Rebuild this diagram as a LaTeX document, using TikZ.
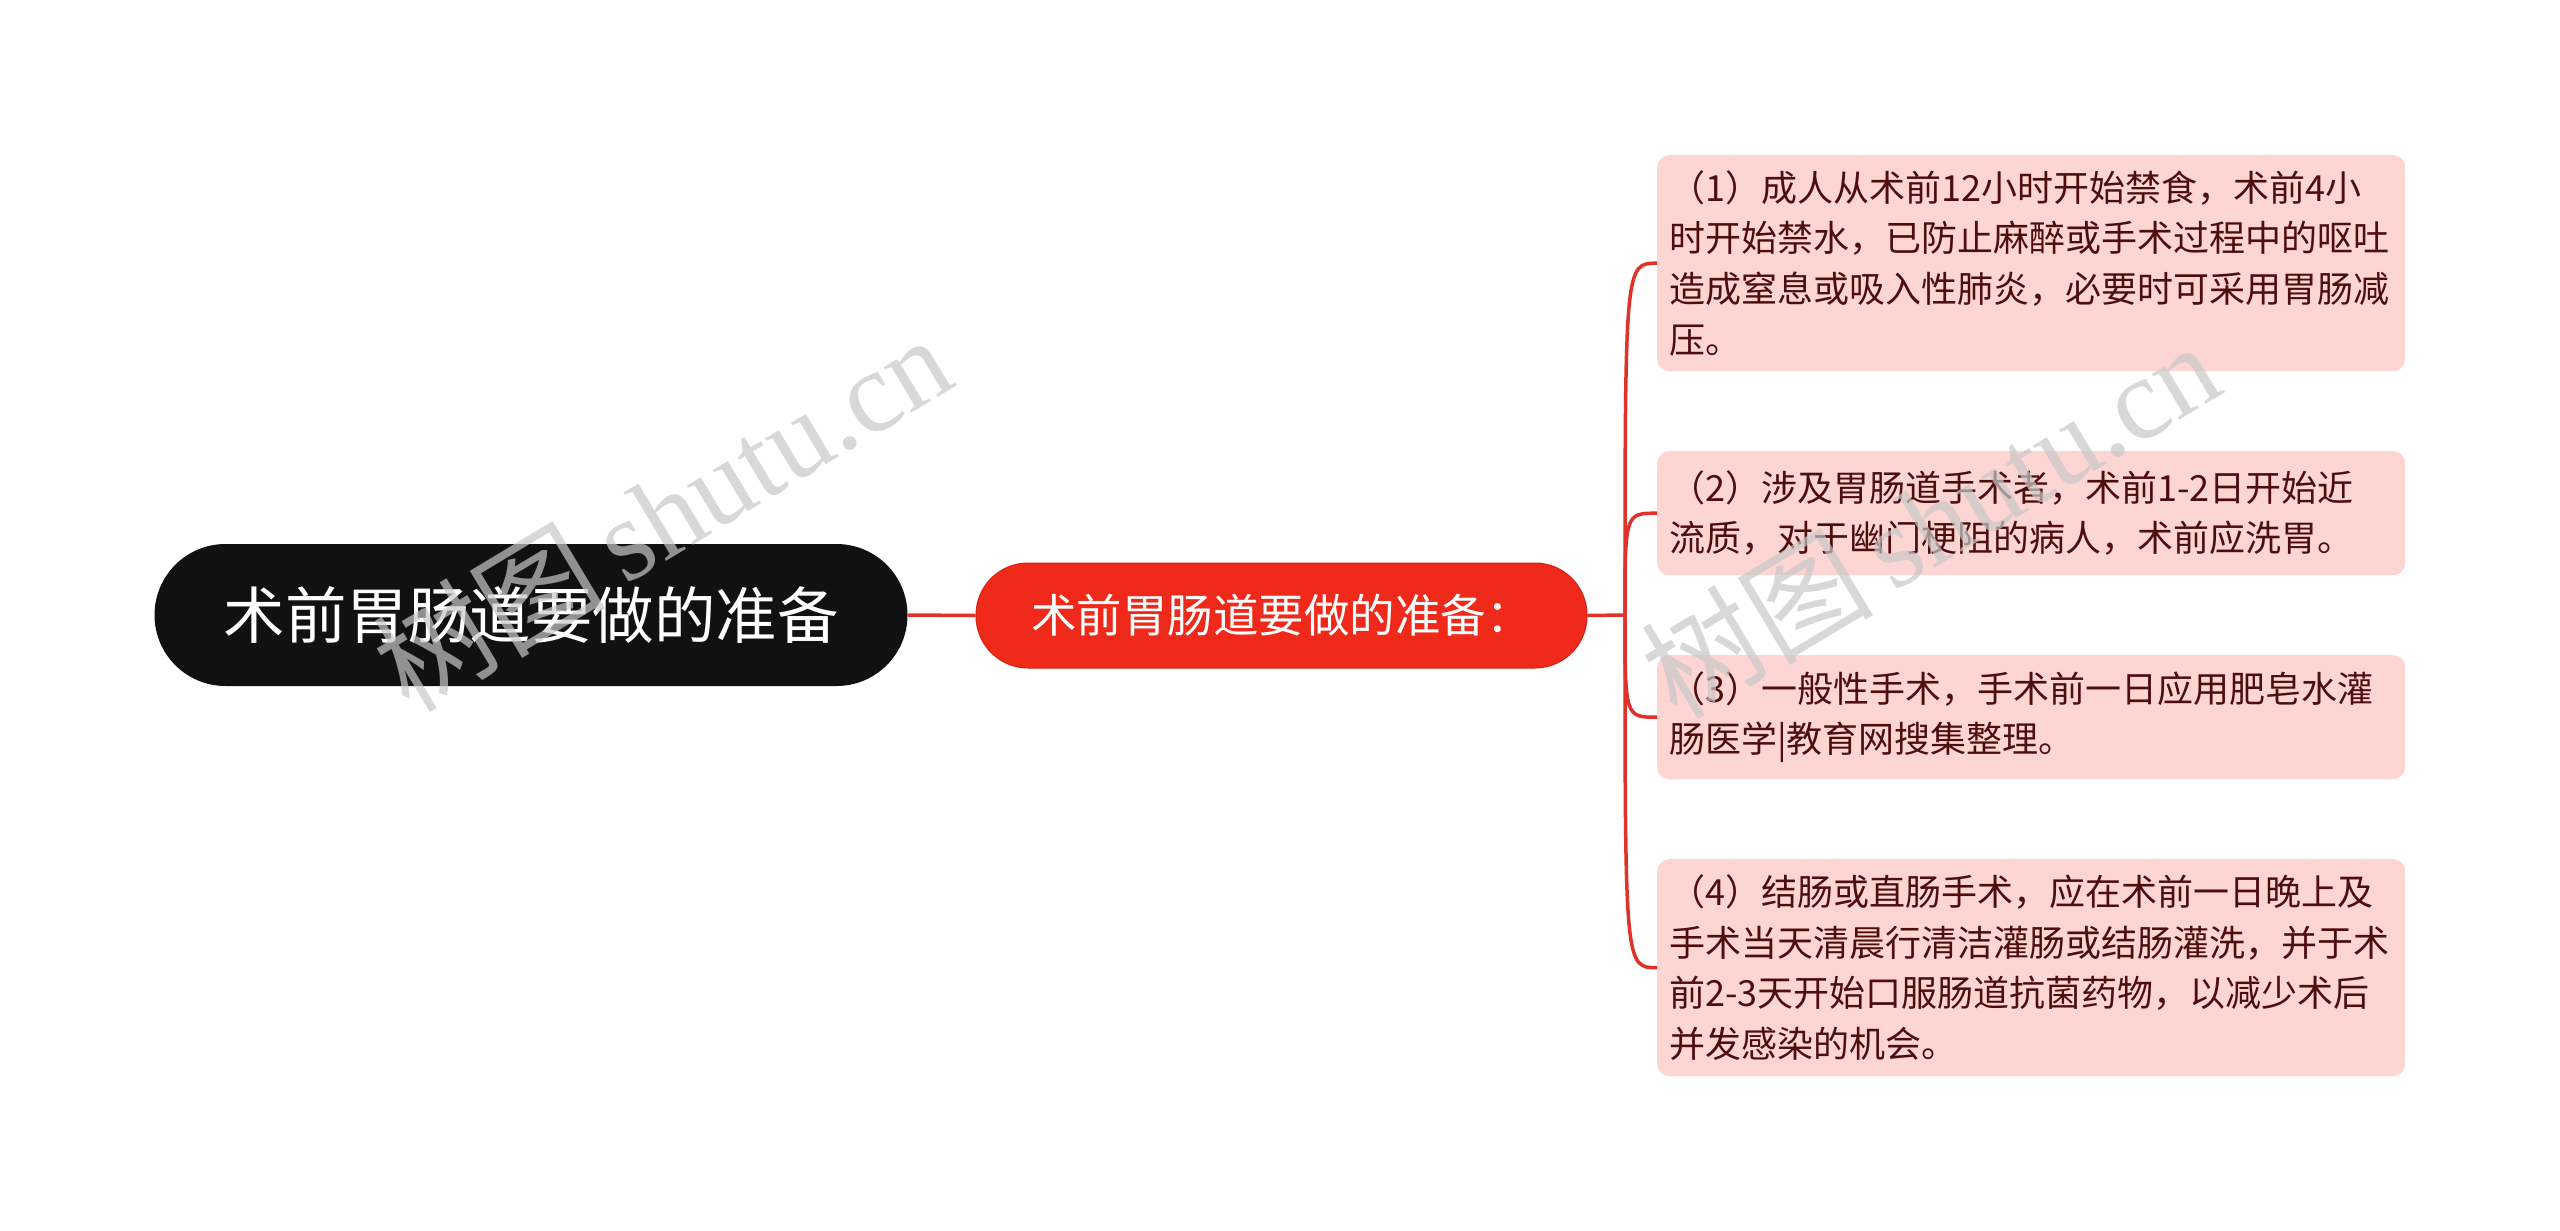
\documentclass[tikz,border=0pt]{standalone}
\usepackage{fontspec}
\setmainfont{Noto Sans CJK SC}
\newfontfamily\wmfont{Liberation Serif}
\definecolor{rootfill}{HTML}{111111}
\definecolor{midfill}{HTML}{EF2A1A}
\definecolor{midline}{HTML}{D42215}
\definecolor{childfill}{HTML}{FDD6D3}
\definecolor{childtext}{HTML}{4E0E0E}
\definecolor{linkred}{HTML}{E0322A}
\definecolor{wmgray}{HTML}{C8C8C8}
\tikzset{
  rootbox/.style={draw=none, fill=rootfill, text=white, rounded corners=71pt,
    minimum width=753pt, minimum height=142pt, inner sep=0pt,
    font=\fontsize{61.5}{72}\selectfont},
  midbox/.style={draw=midline, line width=1pt, fill=midfill, text=white, rounded corners=52pt,
    minimum width=611pt, minimum height=105pt, inner sep=0pt,
    font=\fontsize{45.5}{52}\selectfont},
  childbox/.style={draw=none, fill=childfill, text=childtext, rounded corners=12pt,
    anchor=north west, text width=724pt, inner xsep=12pt, inner ysep=0pt,
    minimum width=748pt, align=left,
    font=\fontsize{36}{50.6}\selectfont},
  conn/.style={draw=linkred, line width=3.5pt},
  wmark/.style={text=wmgray, opacity=0.7, rotate=31, inner sep=0pt}
}
\begin{document}
\begin{tikzpicture}[x=1pt,y=-1pt]
\useasboundingbox (0,0) rectangle (2560,1231);
\fill[white] (0,0) rectangle (2560,1231);

\node[rootbox] (root) at (531,615) {术前胃肠道要做的准备};
\node[midbox] (mid) at (1281.5,615.5) {术前胃肠道要做的准备：};

\node[childbox, minimum height=216pt] (c1) at (1657,155) {（1）成人从术前12小时开始禁食，术前4小\\时开始禁水，已防止麻醉或手术过程中的呕吐\\造成窒息或吸入性肺炎，必要时可采用胃肠减\\压。};
\node[childbox, minimum height=124pt] (c2) at (1657,451) {（2）涉及胃肠道手术者，术前1-2日开始近\\流质，对于幽门梗阻的病人，术前应洗胃。};
\node[childbox, minimum height=124pt] (c3) at (1657,655) {（3）一般性手术，手术前一日应用肥皂水灌\\肠医学|教育网搜集整理。};
\node[childbox, minimum height=217pt] (c4) at (1657,859) {（4）结肠或直肠手术，应在术前一日晚上及\\手术当天清晨行清洁灌肠或结肠灌洗，并于术\\前2-3天开始口服肠道抗菌药物，以减少术后\\并发感染的机会。};

\coordinate (j) at (1625,615);
\draw[conn] (root.east) -- (mid.west);
\draw[conn] (mid.east) -- (j);
\foreach \c in {c1,c2,c3,c4}{
  \draw[conn] (j) .. controls (j |- \c.west) .. (\c.west);
}

\node[wmark] (wm1) at (662,512) {\fontsize{116}{120}\selectfont 树图\,{\wmfont shutu.cn}};
\node[wmark] (wm2) at (1930,519) {\fontsize{116}{120}\selectfont 树图\,{\wmfont shutu.cn}};
\end{tikzpicture}
\end{document}
